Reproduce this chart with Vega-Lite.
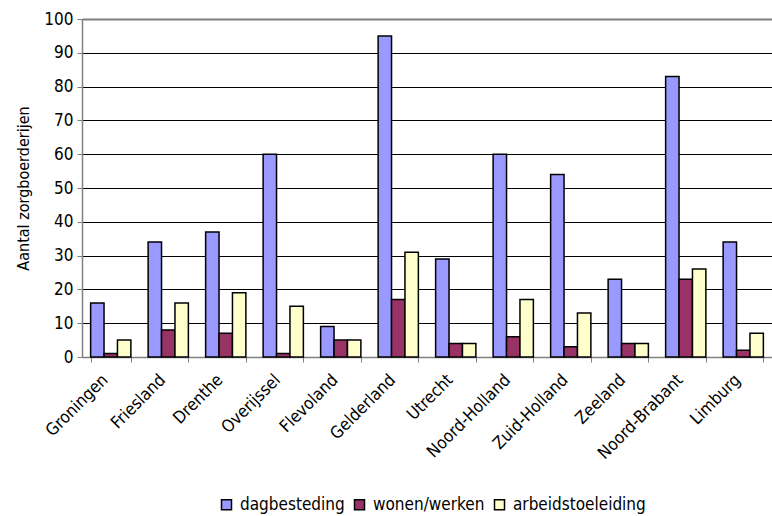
{
  "$schema": "https://vega.github.io/schema/vega-lite/v6.json",
  "width": 690,
  "height": 338,
  "autosize": {"type": "none"},
  "padding": {"left": 82, "top": 19, "right": 0, "bottom": 159},
  "background": "white",
  "config": {
    "font": "DejaVu Sans Condensed, Liberation Sans, sans-serif",
    "view": {"stroke": null}
  },
  "data": {
    "values": [
      {"provincie": "Groningen", "type": "dagbesteding", "aantal": 16},
      {"provincie": "Groningen", "type": "wonen/werken", "aantal": 1},
      {"provincie": "Groningen", "type": "arbeidstoeleiding", "aantal": 5},
      {"provincie": "Friesland", "type": "dagbesteding", "aantal": 34},
      {"provincie": "Friesland", "type": "wonen/werken", "aantal": 8},
      {"provincie": "Friesland", "type": "arbeidstoeleiding", "aantal": 16},
      {"provincie": "Drenthe", "type": "dagbesteding", "aantal": 37},
      {"provincie": "Drenthe", "type": "wonen/werken", "aantal": 7},
      {"provincie": "Drenthe", "type": "arbeidstoeleiding", "aantal": 19},
      {"provincie": "Overijssel", "type": "dagbesteding", "aantal": 60},
      {"provincie": "Overijssel", "type": "wonen/werken", "aantal": 1},
      {"provincie": "Overijssel", "type": "arbeidstoeleiding", "aantal": 15},
      {"provincie": "Flevoland", "type": "dagbesteding", "aantal": 9},
      {"provincie": "Flevoland", "type": "wonen/werken", "aantal": 5},
      {"provincie": "Flevoland", "type": "arbeidstoeleiding", "aantal": 5},
      {"provincie": "Gelderland", "type": "dagbesteding", "aantal": 95},
      {"provincie": "Gelderland", "type": "wonen/werken", "aantal": 17},
      {"provincie": "Gelderland", "type": "arbeidstoeleiding", "aantal": 31},
      {"provincie": "Utrecht", "type": "dagbesteding", "aantal": 29},
      {"provincie": "Utrecht", "type": "wonen/werken", "aantal": 4},
      {"provincie": "Utrecht", "type": "arbeidstoeleiding", "aantal": 4},
      {"provincie": "Noord-Holland", "type": "dagbesteding", "aantal": 60},
      {"provincie": "Noord-Holland", "type": "wonen/werken", "aantal": 6},
      {"provincie": "Noord-Holland", "type": "arbeidstoeleiding", "aantal": 17},
      {"provincie": "Zuid-Holland", "type": "dagbesteding", "aantal": 54},
      {"provincie": "Zuid-Holland", "type": "wonen/werken", "aantal": 3},
      {"provincie": "Zuid-Holland", "type": "arbeidstoeleiding", "aantal": 13},
      {"provincie": "Zeeland", "type": "dagbesteding", "aantal": 23},
      {"provincie": "Zeeland", "type": "wonen/werken", "aantal": 4},
      {"provincie": "Zeeland", "type": "arbeidstoeleiding", "aantal": 4},
      {"provincie": "Noord-Brabant", "type": "dagbesteding", "aantal": 83},
      {"provincie": "Noord-Brabant", "type": "wonen/werken", "aantal": 23},
      {"provincie": "Noord-Brabant", "type": "arbeidstoeleiding", "aantal": 26},
      {"provincie": "Limburg", "type": "dagbesteding", "aantal": 34},
      {"provincie": "Limburg", "type": "wonen/werken", "aantal": 2},
      {"provincie": "Limburg", "type": "arbeidstoeleiding", "aantal": 7}
    ]
  },
  "mark": {"type": "bar", "stroke": "#000000", "strokeWidth": 1.5},
  "encoding": {
    "x": {
      "field": "provincie",
      "type": "nominal",
      "sort": null,
      "scale": {"paddingInner": 0.3, "paddingOuter": 0.15},
      "axis": {
        "title": null,
        "labelAngle": -45,
        "labelAlign": "right",
        "labelBaseline": "middle",
        "labelFontSize": 17,
        "labelColor": "#000000",
        "labelPadding": 15,
        "labelOffset": -6,
        "tickBand": "extent",
        "tickSize": 5,
        "tickColor": "#808080",
        "domainColor": "#808080",
        "domainWidth": 1.5,
        "grid": false
      }
    },
    "xOffset": {
      "field": "type",
      "type": "nominal",
      "sort": ["dagbesteding", "wonen/werken", "arbeidstoeleiding"],
      "scale": {"paddingInner": 0, "paddingOuter": 0}
    },
    "y": {
      "field": "aantal",
      "type": "quantitative",
      "scale": {"domain": [0, 100], "nice": false},
      "axis": {
        "title": "Aantal zorgboerderijen",
        "titleFontSize": 16,
        "titleFontWeight": "normal",
        "titleColor": "#000000",
        "titlePadding": 12,
        "values": [0, 10, 20, 30, 40, 50, 60, 70, 80, 90, 100],
        "labelFontSize": 17,
        "labelColor": "#000000",
        "labelPadding": 4,
        "tickSize": 5,
        "tickColor": "#808080",
        "domainColor": "#808080",
        "domainWidth": 1.5,
        "grid": true,
        "gridColor": {"condition": {"test": "datum.value == 100", "value": "#808080"}, "value": "#000000"},
        "gridWidth": {"condition": {"test": "datum.value == 100", "value": 2}, "value": 1},
        "gridOpacity": 1
      }
    },
    "fill": {
      "field": "type",
      "type": "nominal",
      "sort": ["dagbesteding", "wonen/werken", "arbeidstoeleiding"],
      "scale": {
        "domain": ["dagbesteding", "wonen/werken", "arbeidstoeleiding"],
        "range": ["#9999FF", "#993366", "#FFFFCC"]
      },
      "legend": {
        "title": null,
        "orient": "none",
        "direction": "horizontal",
        "legendX": 136,
        "legendY": 477,
        "symbolType": "square",
        "symbolSize": 100,
        "symbolStrokeColor": "#000000",
        "symbolStrokeWidth": 1.5,
        "labelFontSize": 17,
        "labelColor": "#000000",
        "columnPadding": 6,
        "labelOffset": 5
      }
    }
  }
}
